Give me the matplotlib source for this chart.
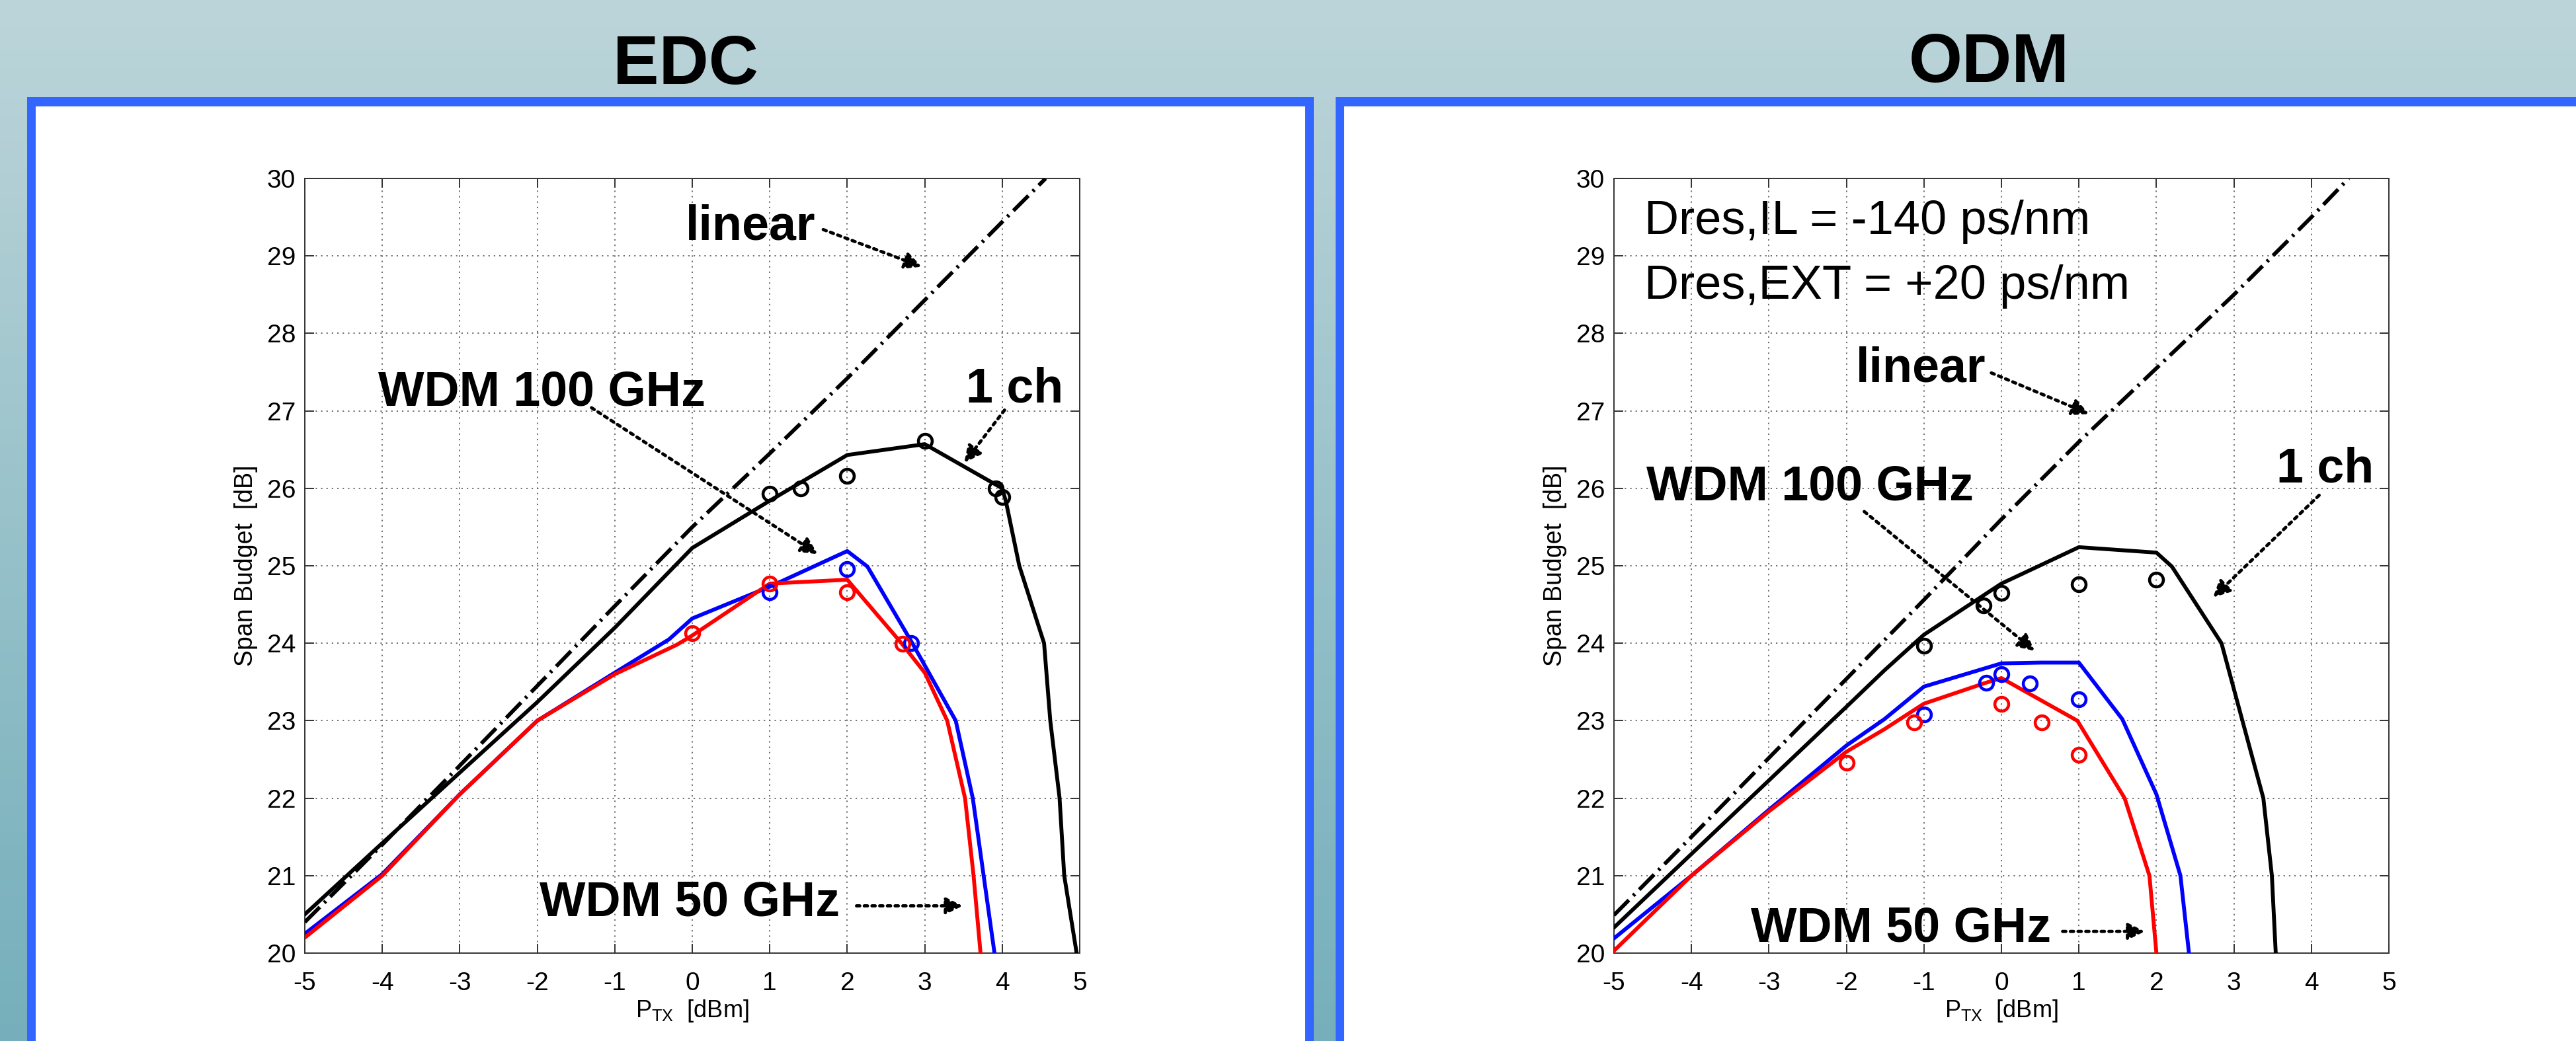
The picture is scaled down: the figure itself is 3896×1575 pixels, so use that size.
import numpy as np
import matplotlib
matplotlib.use('Agg')
import matplotlib.pyplot as plt
from matplotlib.patches import Rectangle

plt.rcParams['font.family'] = ['Liberation Sans', 'DejaVu Sans']
plt.rcParams['axes.unicode_minus'] = False
plt.rcParams['mathtext.fontset'] = 'custom'
plt.rcParams['mathtext.rm'] = 'Liberation Sans'
plt.rcParams['mathtext.it'] = 'Liberation Sans:italic'
plt.rcParams['mathtext.bf'] = 'Liberation Sans:bold'

# ---------------- data ----------------
xticks = [-5, -4, -3, -2, -1, 0, 1, 2, 3, 4, 5]
yticks = [20, 21, 22, 23, 24, 25, 26, 27, 28, 29, 30]
panel_titles = ["EDC", "ODM"]

# EDC panel
edc_linear_x = [-5, -4, -3, -2, -1, 0, 1, 2, 3, 4, 4.56]
edc_linear_y = [20.4, 21.4, 22.42, 23.45, 24.48, 25.5, 26.45, 27.42, 28.43, 29.44, 30.0]
edc_1ch_x = [-5, -4, -3, -2, -1, 0, 1, 2, 3, 4, 4.05, 4.22, 4.54, 4.62, 4.74, 4.80, 4.96]
edc_1ch_y = [20.5, 21.42, 22.33, 23.24, 24.2, 25.23, 25.84, 26.43, 26.57, 26.0, 25.82, 25.0, 24.0, 23.0, 22.0, 21.0, 20.0]
edc_100_x = [-5, -4, -3, -2, -1, -0.3, 0, 1, 2, 2.26, 2.84, 3.4, 3.62, 3.76, 3.9]
edc_100_y = [20.25, 21.02, 22.05, 23.0, 23.62, 24.05, 24.32, 24.73, 25.19, 24.99, 24.0, 23.0, 22.0, 21.0, 20.0]
edc_50_x = [-5, -4, -3, -2, -1, -0.2, 0, 1, 2, 2.7, 3.0, 3.29, 3.52, 3.63, 3.72]
edc_50_y = [20.2, 21.0, 22.05, 23.0, 23.6, 23.98, 24.1, 24.77, 24.82, 24.0, 23.62, 23.0, 22.0, 21.0, 20.0]
edc_1ch_mx = [1.0, 1.4, 2.0, 3.0, 3.92, 4.0]
edc_1ch_my = [25.93, 26.0, 26.16, 26.61, 26.0, 25.89]
edc_100_mx = [1.0, 2.0, 2.82]
edc_100_my = [24.66, 24.96, 24.0]
edc_50_mx = [0.0, 1.0, 2.0, 2.71]
edc_50_my = [24.13, 24.77, 24.66, 23.99]

# ODM panel
odm_linear_x = [-5, -4, -3, -2, -1, 0, 1, 2, 3, 4, 4.48]
odm_linear_y = [20.49, 21.5, 22.52, 23.54, 24.56, 25.6, 26.6, 27.55, 28.5, 29.5, 30.0]
odm_1ch_x = [-5, -4, -3, -2, -1.51, -1, 0, 1, 2, 2.2, 2.84, 3.11, 3.38, 3.49, 3.54]
odm_1ch_y = [20.33, 21.28, 22.23, 23.18, 23.65, 24.11, 24.77, 25.24, 25.17, 24.99, 24.0, 23.0, 22.0, 21.0, 20.0]
odm_100_x = [-5, -4, -3, -2, -1.51, -1, 0, 0.51, 1, 1.56, 2.0, 2.31, 2.42]
odm_100_y = [20.19, 21.0, 21.85, 22.68, 23.02, 23.44, 23.74, 23.75, 23.75, 23.02, 22.05, 21.0, 20.0]
odm_50_x = [-5, -4, -3, -2, -1.51, -1, -0.2, 0, 0.98, 1.45, 1.59, 1.91, 2.0]
odm_50_y = [20.03, 21.0, 21.83, 22.6, 22.89, 23.22, 23.49, 23.55, 23.0, 22.23, 22.0, 21.0, 20.0]
odm_1ch_mx = [-1.0, -0.23, 0.0, 1.0, 2.0]
odm_1ch_my = [23.97, 24.49, 24.65, 24.76, 24.82]
odm_100_mx = [-1.0, -0.2, 0.0, 0.37, 1.0]
odm_100_my = [23.08, 23.49, 23.6, 23.48, 23.28]
odm_50_mx = [-2.0, -1.13, 0.0, 0.52, 1.0]
odm_50_my = [22.46, 22.98, 23.22, 22.98, 22.56]

# annotations: (text, x, y, ha, bold), arrows: (start, end)
edc_texts = [("linear", 1.59, 29.21, 'right', True),
             ("WDM 100 GHz", -4.05, 27.07, 'left', True),
             ("1 ch", 4.79, 27.11, 'right', True),
             ("WDM 50 GHz", -1.97, 20.48, 'left', True)]
edc_arrows = [((1.69, 29.34), (2.96, 28.86)),
              ((4.03, 27.01), (3.51, 26.33)),
              ((-1.30, 27.04), (1.62, 25.15)),
              ((2.12, 20.61), (3.49, 20.61))]
odm_texts = [("Dres,IL = -140 ps/nm", -4.61, 29.28, 'left', False),
             ("Dres,EXT = +20 ps/nm", -4.61, 28.45, 'left', False),
             ("linear", -1.88, 27.38, 'left', True),
             ("WDM 100 GHz", -4.58, 25.85, 'left', True),
             ("1 ch", 4.81, 26.08, 'right', True),
             ("WDM 50 GHz", -3.23, 20.15, 'left', True)]
odm_arrows = [((-0.13, 27.49), (1.13, 26.96)),
              ((-1.77, 25.70), (0.43, 23.90)),
              ((4.10, 25.91), (2.73, 24.59)),
              ((0.79, 20.28), (1.85, 20.28))]

# ---------------- figure ----------------
W, H = 3896, 1575
fig = plt.figure(figsize=(W / 100, H / 100), dpi=100)

# background gradient + panels (pixel coordinates)
bg = fig.add_axes([0, 0, 1, 1], zorder=-10)
yy = np.arange(H)
stops_y = [0, 300, 1300, H]
cols = np.array([[188, 213, 218], [176, 206, 212], [128, 181, 192], [118, 175, 187]]) / 255.0
grad = np.stack([np.interp(yy, stops_y, cols[:, k]) for k in range(3)], axis=1)
img = np.repeat(grad[:, None, :], 4, axis=1)
bg.imshow(img, extent=[0, W, H, 0], aspect='auto', interpolation='bilinear')
bg.set_xlim(0, W)
bg.set_ylim(H, 0)
bg.axis('off')
blue = '#3366FF'
for (x0, x1) in [(41, 1987), (2020, W + 50)]:
    bg.add_patch(Rectangle((x0, 147), x1 - x0, H + 50, facecolor=blue, edgecolor='none'))
    bg.add_patch(Rectangle((x0 + 13, 161), x1 - x0 - 26, H + 50, facecolor='white', edgecolor='none'))

fig.text(1037 / W, 1 - 127 / H, panel_titles[0], ha='center', va='baseline',
         fontsize=75, fontweight='bold', color='black')
fig.text(3008 / W, 1 - 124 / H, panel_titles[1], ha='center', va='baseline',
         fontsize=75, fontweight='bold', color='black')

ax_w = 1172 / W
ax_h = 1172 / H
ax_b = (H - 1442) / H
axL = fig.add_axes([461 / W, ax_b, ax_w, ax_h])
axR = fig.add_axes([2441 / W, ax_b, ax_w, ax_h])

LW = 4.2
MS = 15
MEW = 3.3


def style_axes(ax):
    ax.set_xlim(-5, 5)
    ax.set_ylim(20, 30)
    ax.set_xticks(xticks)
    ax.set_yticks(yticks)
    ax.set_xticklabels([str(v) for v in xticks])
    ax.set_yticklabels([str(v) for v in yticks])
    ax.set_facecolor('white')
    ax.grid(True, color='#555555', linewidth=1.2, linestyle=(0, (1.3, 3.6)))
    ax.set_axisbelow(True)
    for sp in ax.spines.values():
        sp.set_color('#333333')
        sp.set_linewidth(1.4)
    ax.tick_params(axis='both', direction='in', length=10, width=1.4, color='#333333',
                   top=True, right=True, labelsize=28)
    ax.tick_params(axis='x', pad=20)
    ax.tick_params(axis='y', pad=10)
    ax.text(0.5, -0.0828, r'P$_{\mathregular{TX}}$  [dBm]', transform=ax.transAxes,
            ha='center', va='baseline', fontsize=26)
    ax.text(-0.0674, 0.5, 'Span Budget  [dB]', transform=ax.transAxes, rotation=90,
            rotation_mode='anchor', ha='center', va='baseline', fontsize=27)


def arrow(ax, start, end):
    ax.annotate('', xy=end, xytext=start,
                arrowprops=dict(arrowstyle='-|>,head_length=0.5,head_width=0.25',
                                color='black', lw=3.5, linestyle=(0, (1, 1.4)),
                                shrinkA=0, shrinkB=0, mutation_scale=30))


def draw_panel(ax, lin, ch1, w100, w50, m1, m100, m50, texts, arrows):
    style_axes(ax)
    ax.plot(lin[0], lin[1], color='black', lw=LW, linestyle=(0, (5.5, 1.6, 0.6, 1.6)), zorder=3)
    ax.plot(ch1[0], ch1[1], color='black', lw=LW, zorder=3)
    ax.plot(w100[0], w100[1], color='#0000FF', lw=LW, zorder=3)
    ax.plot(w50[0], w50[1], color='#FF0000', lw=LW, zorder=3)
    ax.plot(m1[0], m1[1], 'o', mfc='none', mec='black', ms=MS, mew=MEW, zorder=4)
    ax.plot(m100[0], m100[1], 'o', mfc='none', mec='#0000FF', ms=MS, mew=MEW, zorder=4)
    ax.plot(m50[0], m50[1], 'o', mfc='none', mec='#FF0000', ms=MS, mew=MEW, zorder=4)
    for (t, x, y, ha, bold) in texts:
        ax.text(x, y, t, ha=ha, va='baseline', fontsize=53 if bold else 52,
                fontweight='bold' if bold else 'normal', zorder=6)
    for (s, e) in arrows:
        arrow(ax, s, e)


draw_panel(axL, (edc_linear_x, edc_linear_y), (edc_1ch_x, edc_1ch_y),
           (edc_100_x, edc_100_y), (edc_50_x, edc_50_y),
           (edc_1ch_mx, edc_1ch_my), (edc_100_mx, edc_100_my), (edc_50_mx, edc_50_my),
           edc_texts, edc_arrows)
draw_panel(axR, (odm_linear_x, odm_linear_y), (odm_1ch_x, odm_1ch_y),
           (odm_100_x, odm_100_y), (odm_50_x, odm_50_y),
           (odm_1ch_mx, odm_1ch_my), (odm_100_mx, odm_100_my), (odm_50_mx, odm_50_my),
           odm_texts, odm_arrows)

fig.savefig('out.png', dpi=100)
